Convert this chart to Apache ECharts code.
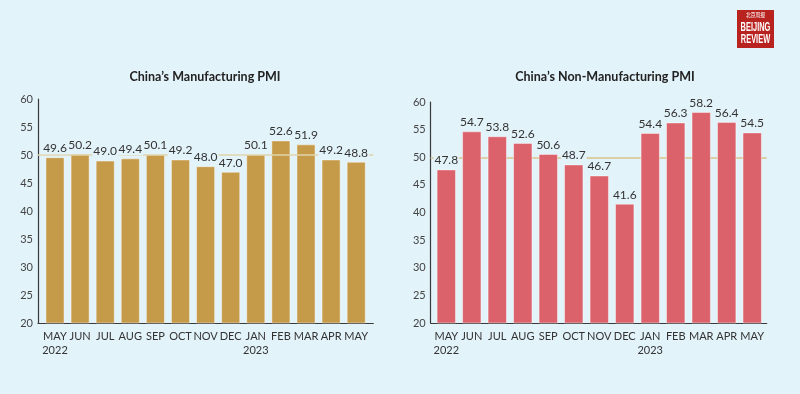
<!DOCTYPE html>
<html><head><meta charset="utf-8">
<script src="https://cdn.jsdelivr.net/npm/echarts@6/dist/echarts.min.js"></script>
<style>html,body{margin:0;padding:0;background:#e3f3fa;}#c{width:800px;height:394px;}</style>
</head><body><div id="c"></div>
<script>
const categories = ['MAY\n2022','JUN','JUL','AUG','SEP','OCT','NOV','DEC','JAN\n2023','FEB','MAR','APR','MAY'];
const manufacturing = [49.6,50.2,49.0,49.4,50.1,49.2,48.0,47.0,50.1,52.6,51.9,49.2,48.8];
const nonManufacturing = [47.8,54.7,53.8,52.6,50.6,48.7,46.7,41.6,54.4,56.3,58.2,56.4,54.5];
const yTicks = {min:20, max:60, interval:5};
const threshold = 50;

const font = 'Lato, "Open Sans", sans-serif';
const bg = '#e3f3fa';
const chart = echarts.init(document.getElementById('c'));

function barSeries(idx, data, color){
  return {
    type:'bar', xAxisIndex:idx, yAxisIndex:idx, data:data, barWidth:'76%', z:3,
    itemStyle:{color:color, borderColor:'rgba(255,255,255,0.45)', borderWidth:1}
  };
}
function labelSeries(idx, data){
  return {
    type:'bar', xAxisIndex:idx, yAxisIndex:idx, data:data, barWidth:'76%', barGap:'-100%', z:8,
    silent:true, itemStyle:{color:'rgba(0,0,0,0)'},
    label:{show:true, position:'top', distance:3, color:'#333', fontSize:12, fontFamily:font,
      backgroundColor:bg, padding:[0,1],
      formatter:p=>p.value.toFixed(1)}
  };
}
function axisSeries(idx, onTop){
  return {type:'line', xAxisIndex:idx, yAxisIndex:idx, data:[], silent:true, z:1,
    markLine:{silent:true, symbol:'none', z:onTop?5:1, label:{show:false},
      lineStyle:{color:onTop?'rgba(224,212,172,0.75)':'#dccfa6', type:'solid', width:2}, data:[{yAxis:threshold}]}};
}
const grids = [
  {left:42.45, top:99, width:326.3, height:224},
  {left:433.55, top:102, width:331.4, height:221},
  {left:38, top:99, width:335.3, height:224},
  {left:430.7, top:102, width:336, height:221}
];
const xAxes = grids.map((g,i)=>({
  type:'category', gridIndex:i, data:categories,
  axisLine:{show:i>=2, lineStyle:{color:'#3a3a3a', width:1.2}},
  axisTick:{show:false},
  axisLabel:{show:i<2, interval:0, color:'#333', fontSize:11, fontFamily:font, margin:6, lineHeight:14}
}));
const yAxes = grids.map((g,i)=>({
  type:'value', gridIndex:i, min:yTicks.min, max:yTicks.max, interval:yTicks.interval,
  show:true,
  axisLine:{show:i>=2, lineStyle:{color:'#3a3a3a', width:1.2}},
  axisTick:{show:false}, splitLine:{show:false},
  axisLabel:{show:i>=2, color:'#444', fontSize:11, fontFamily:font, margin:5}
}));

const logoFont = 'bold 12px "Liberation Sans", sans-serif';
chart.setOption({
  backgroundColor:bg,
  animation:false,
  title:[
    {text:"China’s Manufacturing PMI", left:200, top:65, textAlign:'center',
     textStyle:{fontSize:12.5, fontWeight:'bold', color:'#222', fontFamily:font}},
    {text:"China’s Non-Manufacturing PMI", left:600, top:65, textAlign:'center',
     textStyle:{fontSize:12.5, fontWeight:'bold', color:'#222', fontFamily:font}}
  ],
  grid:grids, xAxis:xAxes, yAxis:yAxes,
  series:[
    axisSeries(2, true), axisSeries(3, false),
    barSeries(0, manufacturing, '#c59a48'),
    barSeries(1, nonManufacturing, '#db626b'),
    labelSeries(0, manufacturing),
    labelSeries(1, nonManufacturing)
  ],
  graphic:[
    {type:'group', left:737, top:10, children:[
      {type:'rect', shape:{x:0,y:0,width:37,height:38}, style:{fill:'#b8231f'}},
      {type:'text', x:18.5, y:2, scaleX:0.8, style:{x:0,y:0,text:'北京周报',fill:'#fff',font:'6px "Noto Sans CJK SC"',textAlign:'center'}},
      {type:'text', x:18.5, y:12, scaleX:0.62, style:{x:0,y:0,text:'BEIJING',fill:'#fff',font:logoFont,textAlign:'center'}},
      {type:'text', x:18.5, y:24, scaleX:0.62, style:{x:0,y:0,text:'REVIEW',fill:'#fff',font:logoFont,textAlign:'center'}}
    ]}
  ]
});
</script></body></html>
